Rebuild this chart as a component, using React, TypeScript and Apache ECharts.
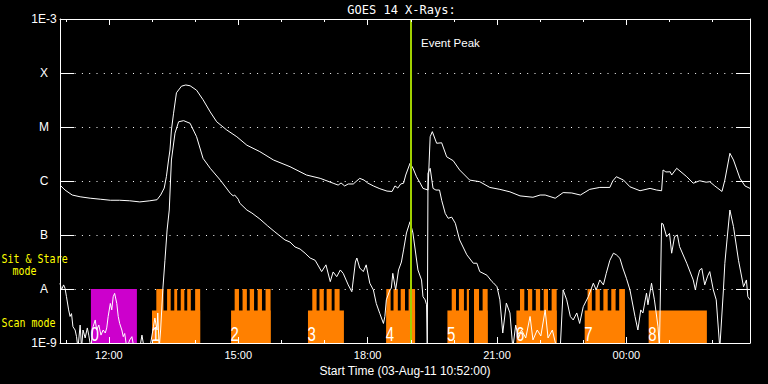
import React, { useEffect, useRef } from "react";
import * as echarts from "echarts";

// ---------- data ----------
const startTime = "10:52";
const endTime = "02:52";
const eventPeakTime = "19:00";
const titleText = "GOES 14 X-Rays:";
const axisNameText = "Start Time (03-Aug-11 10:52:00)";
const labeledHours = ["12:00", "15:00", "18:00", "21:00", "00:00"];
const hourTicks = ["11:00", "12:00", "13:00", "14:00", "15:00", "16:00", "17:00", "18:00", "19:00", "20:00", "21:00", "22:00", "23:00", "00:00", "01:00", "02:00"];
const yMinFlux = 1e-9;
const yMaxFlux = 1e-3;
const yTickLabels = ["1E-9", "A", "B", "C", "M", "X", "1E-3"]; // exponents -9 .. -3

// GOES 1-8 A (long channel)
const longChannel: [string, number][] = [
  ["10:52", 8.4e-7], ["10:59", 6.8e-7], ["11:09", 5.5e-7], ["11:20", 5.1e-7], ["11:34", 4.8e-7],
  ["11:48", 4.6e-7], ["12:02", 4.4e-7], ["12:15", 4.4e-7], ["12:29", 4.3e-7], ["12:43", 4.1e-7],
  ["12:57", 4.3e-7], ["13:07", 4.5e-7], ["13:12", 5.5e-7], ["13:17", 7.4e-7], ["13:20", 1.2e-6],
  ["13:23", 2.45e-6], ["13:25", 3.75e-6], ["13:27", 8.8e-6], ["13:30", 1.8e-5], ["13:34", 4.3e-5],
  ["13:41", 5.7e-5], ["13:47", 6.0e-5], ["13:53", 5.8e-5], ["14:02", 4.8e-5], ["14:11", 3.2e-5],
  ["14:21", 1.9e-5], ["14:30", 1.25e-5], ["14:44", 8.8e-6], ["14:58", 6.6e-6], ["15:12", 4.6e-6],
  ["15:30", 3.5e-6], ["15:49", 2.45e-6], ["16:12", 1.84e-6], ["16:35", 1.29e-6], ["16:54", 1.12e-6],
  ["17:12", 9.1e-7], ["17:19", 8.4e-7], ["17:23", 9.2e-7], ["17:28", 8.1e-7], ["17:33", 8.8e-7],
  ["17:40", 8.8e-7], ["17:49", 1.12e-6], ["17:55", 1.04e-6], ["18:00", 9.2e-7], ["18:08", 8.1e-7],
  ["18:17", 7.2e-7], ["18:27", 6.5e-7], ["18:34", 6.4e-7], ["18:38", 8.1e-7], ["18:42", 7.4e-7],
  ["18:46", 8.8e-7], ["18:50", 9.1e-7], ["18:53", 1.29e-6], ["18:59", 2.13e-6], ["19:03", 1.74e-6],
  ["19:08", 1.2e-6], ["19:13", 9.2e-7], ["19:17", 7.3e-7], ["19:24", 6.8e-7], ["19:27", 6.6e-6],
  ["19:30", 8.2e-6], ["19:36", 5.0e-6], ["19:43", 5.1e-6], ["19:50", 2.8e-6], ["19:59", 2.38e-6],
  ["20:08", 1.6e-6], ["20:22", 1.04e-6], ["20:36", 9.7e-7], ["20:50", 7.6e-7], ["21:04", 7.0e-7],
  ["21:18", 6.3e-7], ["21:32", 5.3e-7], ["21:50", 5.0e-7], ["22:00", 5.5e-7], ["22:07", 5.5e-7],
  ["22:21", 4.8e-7], ["22:32", 6.1e-7], ["22:44", 6.0e-7], ["22:56", 5.5e-7], ["23:09", 7.0e-7],
  ["23:23", 7.6e-7], ["23:37", 7.6e-7], ["23:41", 1.0e-6], ["23:46", 1.2e-6], ["23:56", 1.04e-6],
  ["00:05", 7.8e-7], ["00:19", 6.6e-7], ["00:33", 7.3e-7], ["00:42", 6.8e-7], ["00:49", 6.6e-7],
  ["00:51", 1.6e-6], ["00:55", 1.47e-6], ["01:01", 1.48e-6], ["01:03", 1.29e-6], ["01:10", 1.72e-6],
  ["01:24", 1.2e-6], ["01:33", 9.1e-7], ["01:42", 1.01e-6], ["01:51", 9.5e-7], ["01:56", 9.7e-7],
  ["02:03", 8.1e-7], ["02:13", 6.4e-7], ["02:17", 1.04e-6], ["02:24", 3.26e-6], ["02:29", 2.45e-6],
  ["02:38", 1.12e-6], ["02:45", 8.1e-7], ["02:52", 7.3e-7],
];

// GOES 0.5-4 A (short channel)
const shortChannel: [string, number][] = [
  ["10:52", 1.28e-8], ["10:54", 9.6e-9], ["10:57", 1.19e-8], ["10:59", 1.03e-8], ["11:01", 7.2e-9],
  ["11:04", 4.1e-9], ["11:06", 3.1e-9], ["11:08", 3.5e-9], ["11:10", 2.0e-9], ["11:13", 1.74e-9],
  ["11:15", 1.31e-9], ["11:17", 8e-10], ["11:20", 2.15e-9], ["11:22", 8e-10], ["11:24", 1.74e-9],
  ["11:27", 1.24e-9], ["11:30", 1.9e-9], ["11:32", 1.4e-9], ["11:35", 8e-10], ["11:38", 2.0e-9],
  ["11:41", 2.67e-9], ["11:43", 1.74e-9], ["11:46", 2.15e-9], ["11:49", 1.4e-9], ["11:52", 1.74e-9],
  ["11:55", 1.53e-9], ["11:57", 1.9e-9], ["11:59", 3.1e-9], ["12:02", 5.4e-9], ["12:04", 4.1e-9],
  ["12:06", 7.2e-9], ["12:08", 8.3e-9], ["12:11", 5.4e-9], ["12:13", 3.1e-9], ["12:15", 2.3e-9],
  ["12:18", 1.74e-9], ["12:20", 1.31e-9], ["12:22", 1.5e-9], ["12:25", 8e-10], ["12:29", 1.14e-9],
  ["12:32", 1.31e-9], ["12:35", 8e-10], ["12:43", 8e-10], ["12:46", 1.4e-9], ["12:49", 8e-10],
  ["12:57", 8e-10], ["13:02", 2.0e-9], ["13:04", 2.9e-9], ["13:07", 1.74e-9], ["13:08", 3.6e-9],
  ["13:10", 8e-10], ["13:12", 1.74e-9], ["13:15", 9.6e-9], ["13:18", 3.4e-8], ["13:21", 1.24e-7],
  ["13:24", 2.9e-7], ["13:27", 2.45e-6], ["13:32", 7.7e-6], ["13:37", 1.25e-5], ["13:44", 1.31e-5],
  ["13:53", 1.17e-5], ["14:02", 6.6e-6], ["14:11", 2.63e-6], ["14:21", 1.72e-6], ["14:35", 1.04e-6],
  ["14:49", 5.9e-7], ["14:53", 5.3e-7], ["14:55", 5.5e-7], ["15:00", 4.6e-7], ["15:02", 3.9e-7],
  ["15:12", 2.9e-7], ["15:19", 2.55e-7], ["15:30", 1.98e-7], ["15:41", 1.47e-7], ["15:51", 1.14e-7],
  ["15:58", 9.6e-8], ["16:05", 8.1e-8], ["16:12", 7.4e-8], ["16:19", 6.0e-8], ["16:26", 5.5e-8],
  ["16:33", 4.6e-8], ["16:40", 3.75e-8], ["16:47", 3.4e-8], ["16:56", 2.1e-8], ["17:02", 2.8e-8],
  ["17:08", 1.37e-8], ["17:12", 2.07e-8], ["17:17", 1.69e-8], ["17:22", 2.25e-8], ["17:26", 1.95e-8],
  ["17:33", 1.19e-8], ["17:38", 8.9e-9], ["17:40", 1.47e-8], ["17:43", 3.16e-8], ["17:45", 3.75e-8],
  ["17:49", 2.45e-8], ["17:54", 2.1e-8], ["17:58", 2.8e-8], ["18:03", 1.28e-8], ["18:08", 9.6e-9],
  ["18:12", 5.4e-9], ["18:17", 3.5e-9], ["18:22", 2.3e-9], ["18:24", 3.1e-9], ["18:26", 6.3e-9],
  ["18:31", 9.6e-9], ["18:33", 1.04e-8], ["18:35", 1.95e-8], ["18:39", 9.6e-9], ["18:43", 2.25e-8],
  ["18:47", 3.16e-8], ["18:50", 5.3e-8], ["18:54", 1.09e-7], ["18:59", 1.76e-7], ["19:03", 1.09e-7],
  ["19:10", 2.25e-8], ["19:15", 1.47e-8], ["19:17", 7.2e-9], ["19:20", 6.3e-9], ["19:22", 5.1e-9],
  ["19:23", 8e-10], ["19:24", 1.39e-6], ["19:27", 1.72e-6], ["19:31", 7.3e-7], ["19:35", 6.8e-7],
  ["19:40", 6.8e-7], ["19:43", 4.4e-7], ["19:48", 2.5e-7], ["19:52", 2.04e-7], ["19:57", 2.14e-7],
  ["20:02", 1.65e-7], ["20:08", 8.1e-8], ["20:18", 4.3e-8], ["20:27", 3.0e-8], ["20:32", 3.0e-8],
  ["20:36", 2.1e-8], ["20:46", 1.8e-8], ["20:53", 1.37e-8], ["20:55", 1.3e-8], ["21:00", 1.1e-8],
  ["21:04", 6.3e-9], ["21:08", 1.53e-9], ["21:13", 5.5e-9], ["21:18", 3.6e-9], ["21:22", 8e-10],
  ["21:26", 2.15e-9], ["21:30", 1.24e-9], ["21:34", 1.74e-9], ["21:40", 1.24e-9], ["21:46", 3.1e-9],
  ["21:50", 1.14e-9], ["21:56", 1.74e-9], ["22:01", 1.35e-9], ["22:07", 4.1e-9], ["22:11", 1.24e-9],
  ["22:17", 1.74e-9], ["22:23", 8e-10], ["22:28", 8e-10], ["22:32", 9.6e-9], ["22:37", 6.3e-9],
  ["22:42", 3.1e-9], ["22:46", 2.67e-9], ["22:51", 3.6e-9], ["22:55", 2.3e-9], ["23:00", 4.7e-9],
  ["23:07", 7.2e-9], ["23:14", 1.28e-8], ["23:18", 9.6e-9], ["23:23", 1.47e-8], ["23:28", 1.19e-8],
  ["23:32", 1.95e-8], ["23:37", 3.4e-8], ["23:42", 4.6e-8], ["23:46", 4.3e-8], ["23:51", 3.7e-8],
  ["23:55", 2.45e-8], ["00:00", 1.58e-8], ["00:05", 9.6e-9], ["00:12", 3.1e-9], ["00:16", 1.74e-9],
  ["00:20", 4.1e-9], ["00:23", 3.6e-9], ["00:28", 8.4e-9], ["00:30", 5.1e-9], ["00:35", 1.28e-8],
  ["00:39", 6.3e-9], ["00:44", 2.0e-9], ["00:46", 8e-10], ["00:49", 1.65e-7], ["00:51", 1.6e-7],
  ["00:56", 9.3e-8], ["01:00", 1.07e-7], ["01:03", 4.6e-8], ["01:07", 9.3e-8], ["01:11", 1.0e-7],
  ["01:14", 6.1e-8], ["01:24", 3.0e-8], ["01:33", 1.47e-8], ["01:36", 9.6e-9], ["01:39", 1.6e-8],
  ["01:42", 2.25e-8], ["01:45", 2.4e-8], ["01:49", 1.19e-8], ["01:53", 1.73e-8], ["01:56", 2.1e-8],
  ["02:01", 9.6e-9], ["02:05", 6.3e-9], ["02:10", 8e-10], ["02:15", 9.6e-9], ["02:17", 3.0e-8],
  ["02:20", 8.1e-8], ["02:24", 2.9e-7], ["02:29", 1.43e-7], ["02:36", 3.4e-8], ["02:43", 1.1e-8],
  ["02:47", 1.47e-8], ["02:49", 7.2e-9], ["02:52", 6.3e-9],
];

// Observation modes
const sitStareBlocks: [string, string][] = [["11:35", "12:39"]];
const scanBlocks: [string, string][] = [
  ["13:00", "14:07"], ["14:50", "15:45"], ["16:37", "17:27"], ["18:26", "19:06"], ["19:51", "20:21"],
  ["20:28", "20:47"], ["21:27", "22:23"], ["23:02", "23:58"], ["00:31", "01:52"],
];
const scanTeeth: [string, string][] = [
  ["13:06", "13:16"], ["13:21", "13:26"], ["13:31", "13:35"], ["13:40", "13:45"], ["13:49", "13:54"], ["14:00", "14:07"],
  ["14:55", "15:01"], ["15:06", "15:12"], ["15:16", "15:22"], ["15:27", "15:33"], ["15:38", "15:45"],
  ["16:43", "16:49"], ["16:53", "16:59"], ["17:03", "17:10"], ["17:14", "17:21"],
  ["18:26", "18:32"], ["18:36", "18:42"], ["18:46", "18:52"], ["18:57", "19:06"],
  ["19:57", "20:03"], ["20:07", "20:14"], ["20:18", "20:21"], ["20:28", "20:35"], ["20:40", "20:47"],
  ["21:32", "21:38"], ["21:43", "21:49"], ["21:54", "22:00"], ["22:05", "22:11"], ["22:16", "22:23"],
  ["23:06", "23:12"], ["23:17", "23:23"], ["23:28", "23:34"], ["23:39", "23:45"], ["23:50", "23:58"],
];
const modeTopFlux = 1e-8;
const scanBaseFlux = 4e-9;
const blockLabelTimes = ["11:35", "13:00", "14:50", "16:37", "18:26", "19:51", "21:27", "23:02", "00:31"];
const blockLabels = ["0", "1", "2", "3", "4", "5", "6", "7", "8"];

// ---------- styles ----------
const WHITE = "#ffffff";
const ORANGE = "#ff8000";
const MAGENTA = "#cc00cc";
const YELLOW = "#ffff00";
const GREEN = "#a0d000";

const toMin = (s: string) => {
  const [h, m] = s.split(":").map(Number);
  return (h < 10 ? h + 24 : h) * 60 + m;
};

export default function App() {
  const ref = useRef<HTMLDivElement>(null);
  useEffect(() => {
    if (!ref.current) return;
    const chart = echarts.init(ref.current, undefined, { renderer: "svg" });
    const xMin = toMin(startTime);
    const xMax = toMin(endTime);
    const labelVals = labeledHours.map(toMin);
    const hourVals = hourTicks.map(toMin);
    const fmtHour = (v: number) => {
      const h = Math.round(v / 60) % 24;
      return (h < 10 ? "0" : "") + h + ":00";
    };

    const modeData: number[][] = [
      ...sitStareBlocks.map(([a, b]) => [toMin(a), toMin(b), modeTopFlux, 0]),
      ...scanBlocks.map(([a, b]) => [toMin(a), toMin(b), scanBaseFlux, 1]),
      ...scanTeeth.map(([a, b]) => [toMin(a), toMin(b), modeTopFlux, 1]),
    ];
    const labelData = blockLabelTimes.map((t) => [toMin(t), yMinFlux]);

    const xBase = (extra: any) => ({
      type: "value",
      min: xMin,
      max: xMax,
      z: 10,
      splitLine: { show: false },
      ...extra,
    });

    const option: any = {
      animation: false,
      backgroundColor: "#000",
      grid: { left: 60, right: 18, top: 19, bottom: 41, containLabel: false },
      xAxis: [
        xBase({
          position: "bottom",
          axisLine: { show: true, onZero: false, lineStyle: { color: WHITE, width: 1 } },
          axisTick: { show: true, inside: true, length: 6, customValues: labelVals, lineStyle: { color: WHITE } },
          axisLabel: { show: true, customValues: labelVals, formatter: fmtHour, color: WHITE, fontFamily: "Liberation Sans", fontSize: 11, margin: 6 },
          name: axisNameText,
          nameLocation: "middle",
          nameGap: 20,
          nameTextStyle: { color: WHITE, fontFamily: "Liberation Sans", fontSize: 12 },
        }),
        xBase({
          position: "bottom",
          axisLine: { show: false, onZero: false },
          axisTick: { show: true, inside: true, length: 3, customValues: hourVals, lineStyle: { color: WHITE } },
          axisLabel: { show: false },
        }),
        xBase({
          position: "top",
          axisLine: { show: true, onZero: false, lineStyle: { color: WHITE, width: 1 } },
          axisTick: { show: true, inside: true, length: 6, customValues: labelVals, lineStyle: { color: WHITE } },
          axisLabel: { show: false },
        }),
        xBase({
          position: "top",
          axisLine: { show: false, onZero: false },
          axisTick: { show: true, inside: true, length: 3, customValues: hourVals, lineStyle: { color: WHITE } },
          axisLabel: { show: false },
        }),
      ],
      yAxis: [
        {
          type: "log",
          logBase: 10,
          min: yMinFlux,
          max: yMaxFlux,
          position: "left",
          axisLine: { show: true, onZero: false, lineStyle: { color: WHITE, width: 1 } },
          axisTick: { show: true, inside: true, length: 14, lineStyle: { color: WHITE } },
          axisLabel: {
            show: true,
            color: WHITE,
            fontFamily: "Liberation Sans",
            fontSize: 12,
            align: "center",
            margin: 16,
            formatter: (v: number) => yTickLabels[Math.round(Math.log10(v)) + 9] ?? "",
          },
          splitLine: { show: true, lineStyle: { color: WHITE, width: 1, type: [1, 6.3] } },
        },
        {
          type: "log",
          logBase: 10,
          min: yMinFlux,
          max: yMaxFlux,
          position: "right",
          axisLine: { show: true, onZero: false, lineStyle: { color: WHITE, width: 1 } },
          axisTick: { show: true, inside: true, length: 14, lineStyle: { color: WHITE } },
          axisLabel: { show: false },
          splitLine: { show: false },
        },
      ],
      graphic: [
        { type: "text", x: 401.5, y: 10, style: { text: titleText, fill: WHITE, font: '12px "DejaVu Sans Mono"', textAlign: "center", textVerticalAlign: "middle" } },
        { type: "text", x: 421, y: 43, style: { text: "Event Peak", fill: WHITE, font: '11.5px "Liberation Sans"', textAlign: "left", textVerticalAlign: "middle" } },
        { type: "text", x: 1.5, y: 259, scaleY: 1.15, style: { text: "Sit & Stare", fill: YELLOW, font: '10px "DejaVu Sans Mono"', textAlign: "left", textVerticalAlign: "middle" } },
        { type: "text", x: 12.5, y: 271, scaleY: 1.15, style: { text: "mode", fill: YELLOW, font: '10px "DejaVu Sans Mono"', textAlign: "left", textVerticalAlign: "middle" } },
        { type: "text", x: 1.5, y: 323.5, scaleY: 1.15, style: { text: "Scan mode", fill: YELLOW, font: '10px "DejaVu Sans Mono"', textAlign: "left", textVerticalAlign: "middle" } },
      ],
      series: [
        {
          type: "custom",
          name: "modes",
          z: 1,
          xAxisIndex: 0,
          yAxisIndex: 0,
          encode: { x: [0, 1], y: 2 },
          data: modeData,
          renderItem: (_p: any, api: any) => {
            const s = api.value(0);
            const e = api.value(1);
            const top = api.value(2);
            const kind = api.value(3);
            const p0 = api.coord([s, top]);
            const p1 = api.coord([e, yMinFlux]);
            return {
              type: "rect",
              shape: { x: p0[0], y: p0[1], width: p1[0] - p0[0], height: p1[1] - p0[1] },
              style: { fill: kind === 0 ? MAGENTA : ORANGE },
            };
          },
        },
        {
          type: "custom",
          name: "mode labels",
          z: 3,
          xAxisIndex: 0,
          yAxisIndex: 0,
          encode: { x: 0, y: 1 },
          data: labelData,
          renderItem: (p: any, api: any) => {
            const pt = api.coord([api.value(0), api.value(1)]);
            return {
              type: "text",
              x: pt[0] - 0.5,
              y: pt[1] - 8.5,
              scaleY: 1.35,
              style: {
                text: blockLabels[p.dataIndex],
                fill: WHITE,
                font: '15px "Liberation Sans"',
                textAlign: "left",
                textVerticalAlign: "middle",
              },
            };
          },
        },
        {
          type: "line",
          name: "long",
          z: 4,
          showSymbol: false,
          symbol: "none",
          clip: true,
          lineStyle: { color: WHITE, width: 1 },
          data: longChannel.map(([t, v]) => [toMin(t), v]),
        },
        {
          type: "line",
          name: "short",
          z: 4,
          showSymbol: false,
          symbol: "none",
          clip: true,
          lineStyle: { color: WHITE, width: 1 },
          data: shortChannel.map(([t, v]) => [toMin(t), v]),
        },
        {
          type: "line",
          name: "event",
          z: 6,
          data: [],
          markLine: {
            silent: true,
            symbol: ["none", "none"],
            label: { show: false },
            lineStyle: { color: GREEN, width: 2, type: "solid" },
            data: [{ xAxis: toMin(eventPeakTime) }],
          },
        },
      ],
    };
    chart.setOption(option);
    return () => chart.dispose();
  }, []);
  return (
    <div
      ref={ref}
      style={{ position: "fixed", left: 0, top: 0, width: 768, height: 384, background: "#000" }}
    />
  );
}
